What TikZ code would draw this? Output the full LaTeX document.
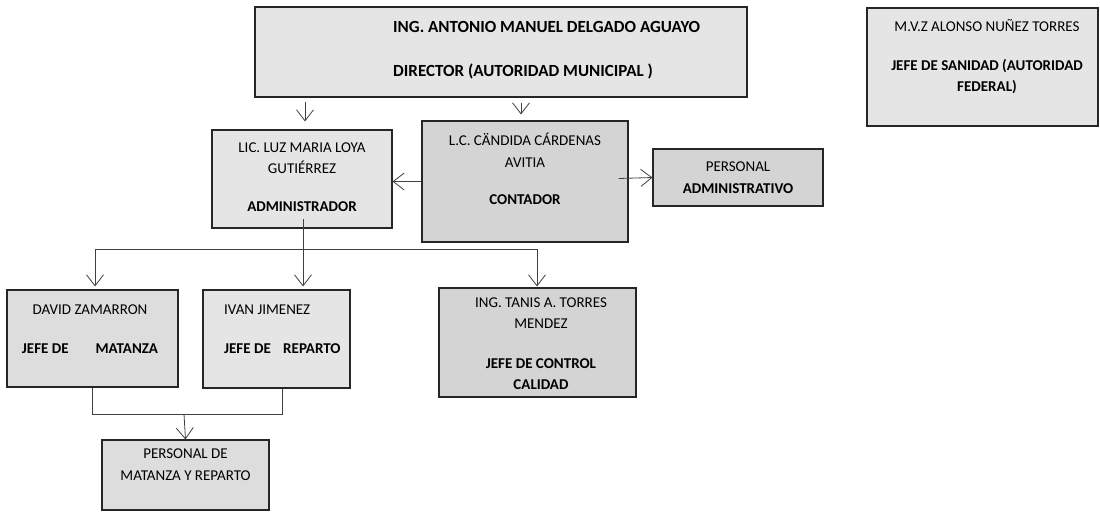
\documentclass[tikz,border=0pt]{standalone}
\usepackage{fontspec}
\setmainfont{Carlito}
\usetikzlibrary{arrows.meta,calc}
\tikzset{
  box/.style={draw=black!85, line width=1.1pt, inner sep=0pt},
  boxlite/.style={box, fill=gray!20},
  boxmid/.style={box, fill=gray!27},
  boxdark/.style={box, fill=gray!34},
  txt/.style={font=\fontsize{15}{21.5}\selectfont, inner sep=0pt, align=center},
  bigtxt/.style={txt, font=\fontsize{17}{21.5}\selectfont},
  link/.style={draw=black!75, line width=0.8pt},
  arr/.style={link, -{Straight Barb[length=11pt,width=17pt]}}
}
\begin{document}
\begin{tikzpicture}[x=1pt,y=-1pt]
\useasboundingbox (0,0) rectangle (1100,512);
\node[boxlite, minimum width=492pt, minimum height=90pt] (dir) at (501,52) {};
\node[boxlite, minimum width=231pt, minimum height=118pt] (san) at (982.5,67) {};
\node[boxlite, minimum width=180pt, minimum height=98pt] (admin) at (302,179) {};
\node[boxdark, minimum width=206pt, minimum height=121pt] (cont) at (525,181.5) {};
\node[boxdark, minimum width=170pt, minimum height=57pt] (padm) at (738,177.5) {};
\node[boxmid, minimum width=171pt, minimum height=97pt] (david) at (92.5,338.5) {};
\node[boxlite, minimum width=147pt, minimum height=98pt] (ivan) at (276.5,339) {};
\node[boxdark, minimum width=197pt, minimum height=109pt] (tanis) at (537.5,342.5) {};
\node[boxmid, minimum width=167pt, minimum height=70pt] (pmat) at (185.5,475) {};
\coordinate (bus) at (303,249);
\coordinate (join) at (184,414);
\draw[arr] ($(admin.north |- dir.south)+(3,4)$) -- ($(admin.north)+(3,-8)$);
\draw[arr] ($(cont.north |- dir.south)+(-4,5)$) -- ($(cont.north)+(-4,-6)$);
\draw[arr] (cont.west) -- (cont.west -| admin.east);
\draw[arr] ($(cont.east)+(-10,-3)$) -- (padm.west);
\draw[link] ($(admin.south)+(1,-10)$) -- (bus);
\draw[arr] (bus) -| ($(david.north)+(2.5,-3)$);
\draw[arr] (bus) -- ($(bus |- ivan.north)+(0,-3)$);
\draw[arr] (bus) -| ($(tanis.north)+(-0.5,-1)$);
\draw[link] (david.south) |- (join);
\draw[link] ($(ivan.south)+(5.5,0)$) |- (join);
\draw[arr] (join) -- (pmat.north);
\node[bigtxt, align=left, anchor=west] (dirT) at (393,50) {\textbf{ING. ANTONIO MANUEL DELGADO AGUAYO}\\[22pt]\textbf{DIRECTOR (AUTORIDAD MUNICIPAL )}};
\node[txt] (sanT) at (987,57) {M.V.Z ALONSO NUÑEZ TORRES\\[17pt]\textbf{JEFE DE SANIDAD (AUTORIDAD}\\\textbf{FEDERAL)}};
\node[txt] (adminT) at (302,177) {LIC. LUZ MARIA LOYA\\GUTIÉRREZ\\[16pt]\textbf{ADMINISTRADOR}};
\node[txt] (contT) at (525,169) {L.C. CÄNDIDA CÁRDENAS\\AVITIA\\[16pt]\textbf{CONTADOR}};
\node[txt] (padmT) at (738,177.5) {PERSONAL\\\textbf{ADMINISTRATIVO}};
\node[txt] (davidT) at (90,329) {DAVID ZAMARRON\\[18pt]\textbf{JEFE DE\hspace{27pt}MATANZA}};
\node[txt, align=left, anchor=west] (ivanT) at (224,329) {IVAN JIMENEZ\\[18pt]\textbf{JEFE DE\hspace{9pt} REPARTO}};
\node[txt] (tanisT) at (541,343.5) {ING. TANIS A. TORRES\\MENDEZ\\[18pt]\textbf{JEFE DE CONTROL}\\\textbf{CALIDAD}};
\node[txt] (pmatT) at (185.5,464.5) {PERSONAL DE\\MATANZA Y REPARTO};
\end{tikzpicture}
\end{document}
